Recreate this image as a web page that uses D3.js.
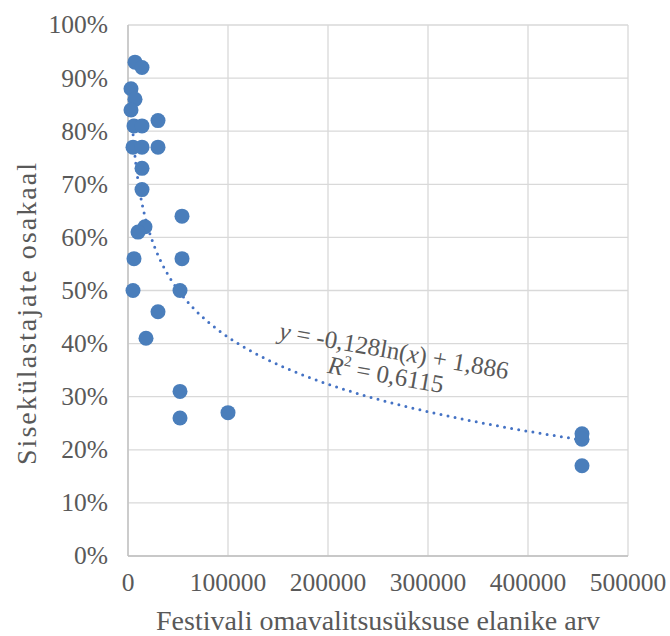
<!DOCTYPE html>
<html>
<head>
<meta charset="utf-8">
<script src="https://cdn.jsdelivr.net/npm/d3@7/dist/d3.min.js"></script>
<style>
  html, body { margin: 0; padding: 0; background: #fff; }
  svg { display: block; }
  text { font-family: "Liberation Serif", "DejaVu Serif", serif; fill: #595959; }
</style>
</head>
<body>
<svg id="chart" width="670" height="636"></svg>
<script>
// Data (population of festival municipality, share of domestic visitors)
const population = [7000, 14000, 3000, 7000, 3000, 6000, 14000, 30000, 5000, 14000, 30000, 14000, 14000,
  54000, 17000, 10000, 6000, 54000, 5000, 52000, 30000, 18000, 52000, 52000, 100000, 454000, 454000, 454000];
const domesticShare = [0.93, 0.92, 0.88, 0.86, 0.84, 0.81, 0.81, 0.82, 0.77, 0.77, 0.77, 0.73, 0.69,
  0.64, 0.62, 0.61, 0.56, 0.56, 0.50, 0.50, 0.46, 0.41, 0.31, 0.26, 0.27, 0.23, 0.22, 0.17];
const xTicks = [0, 100000, 200000, 300000, 400000, 500000];
const yTicks = [0, 0.1, 0.2, 0.3, 0.4, 0.5, 0.6, 0.7, 0.8, 0.9, 1.0];
const trendCoef = { a: -0.128, b: 1.886 }; // y = a ln(x) + b (from chart label)
const xTitle = "Festivali omavalitsusüksuse elanike arv";
const yTitle = "Sisekülastajate osakaal";

const svg = d3.select("#chart");
const m = { left: 128, top: 25, width: 500, height: 531 };

const x = d3.scaleLinear().domain([0, 500000]).range([m.left, m.left + m.width]);
const y = d3.scaleLinear().domain([0, 1]).range([m.top + m.height, m.top]);

// Gridlines
svg.append("g").selectAll("line").data(yTicks).join("line")
  .attr("x1", m.left).attr("x2", m.left + m.width)
  .attr("y1", d => y(d)).attr("y2", d => y(d))
  .attr("stroke", "#d9d9d9").attr("stroke-width", 1.3);
svg.append("g").selectAll("line").data(xTicks).join("line")
  .attr("x1", d => x(d)).attr("x2", d => x(d))
  .attr("y1", m.top).attr("y2", m.top + m.height)
  .attr("stroke", "#d9d9d9").attr("stroke-width", 1.3);
// axis lines
svg.append("line").attr("x1", m.left).attr("x2", m.left).attr("y1", m.top).attr("y2", m.top + m.height)
  .attr("stroke", "#bfbfbf").attr("stroke-width", 1.3);
svg.append("line").attr("x1", m.left).attr("x2", m.left + m.width).attr("y1", y(0)).attr("y2", y(0))
  .attr("stroke", "#bfbfbf").attr("stroke-width", 1.3);

// Tick labels
const pct = d3.format(".0%");
svg.append("g").selectAll("text").data(yTicks).join("text")
  .attr("x", 108).attr("y", d => y(d)).attr("dy", "0.33em")
  .attr("text-anchor", "end").attr("font-size", 25.5)
  .text(d => pct(d));
svg.append("g").selectAll("text").data(xTicks).join("text")
  .attr("x", d => x(d)).attr("y", 591)
  .attr("text-anchor", "middle").attr("font-size", 25.5)
  .text(d => d3.format("d")(d));

// Axis titles
svg.append("text").attr("x", 378).attr("y", 630).attr("text-anchor", "middle")
  .attr("font-size", 28).text(xTitle);
svg.append("text").attr("transform", "translate(36,314) rotate(-90)").attr("text-anchor", "middle")
  .attr("font-size", 28).attr("textLength", 302).attr("lengthAdjust", "spacing").text(yTitle);

// Trendline (logarithmic, from label coefficients)
const xmin = d3.min(population), xmax = d3.max(population);
const trendX = d3.range(0, 401).map(i => xmin * Math.pow(xmax / xmin, i / 400));
const line = d3.line().x(d => x(d)).y(d => y(trendCoef.a * Math.log(d) + trendCoef.b));
svg.append("path").datum(trendX).attr("d", line)
  .attr("fill", "none").attr("stroke", "#4472c4").attr("stroke-width", 3)
  .attr("stroke-dasharray", "0 7.2").attr("stroke-linecap", "round");

// Points
svg.append("g").selectAll("circle").data(population.map((p, i) => [p, domesticShare[i]])).join("circle")
  .attr("cx", d => x(d[0])).attr("cy", d => y(d[1])).attr("r", 7.5)
  .attr("fill", "#4a7ebb");

// Equation label
const eq = svg.append("g").attr("transform", "translate(394,351) rotate(10)");
const t1 = eq.append("text").attr("text-anchor", "middle").attr("y", 8).attr("font-size", 25);
t1.append("tspan").attr("font-style", "italic").text("y");
t1.append("tspan").text(" = -0,128ln(");
t1.append("tspan").attr("font-style", "italic").text("x");
t1.append("tspan").text(") + 1,886");
const t2 = eq.append("text").attr("text-anchor", "middle").attr("x", -4).attr("y", 33).attr("font-size", 25);
t2.append("tspan").attr("font-style", "italic").text("R");
t2.append("tspan").attr("font-size", 15).attr("dy", -10).text("2");
t2.append("tspan").attr("dy", 10).text(" = 0,6115");
</script>
</body>
</html>
